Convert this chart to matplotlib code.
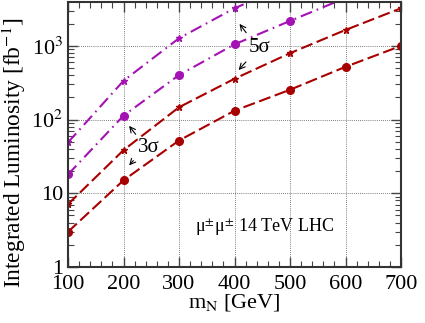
import numpy as np
import matplotlib.pyplot as plt
from matplotlib.ticker import FixedLocator, MultipleLocator, LogLocator, NullFormatter

plt.rcParams['font.family'] = ['Liberation Serif', 'DejaVu Serif']
plt.rcParams['mathtext.fontset'] = 'stix'

mN = [100, 200, 300, 400, 500, 600, 700]
red_3sig = [3.0, 15, 52, 132, 254, 520, 1000]          # circles, dashed
red_5sig = [7.1, 38.5, 147, 358, 796, 1645, 3240]      # stars, dashed
mag_3sig = [18, 113, 402, 1050, 2180, 4470, 8500]      # circles, dash-dot
mag_5sig = [49, 336, 1270, 3240, 6800, 13000, 24000]   # stars, dash-dot

RED = '#a80000'
MAG = '#a412b4'

fig = plt.figure(figsize=(4.25, 3.23), dpi=100)
ax = fig.add_axes([68 / 425, 1 - 267 / 323, 333 / 425, 265 / 323])

dash = (0, (5.8, 2.2))
dashdot = (0, (5.8, 2.4, 0.8, 2.4))
ax.plot(mN, red_3sig, color=RED, ls=dash, lw=1.5, marker='o', ms=5.5)
ax.plot(mN, red_5sig, color=RED, ls=dash, lw=1.5, marker='*', ms=5)
ax.plot(mN, mag_3sig, color=MAG, ls=dashdot, lw=1.5, marker='o', ms=5.5)
ax.plot(mN, mag_5sig, color=MAG, ls=dashdot, lw=1.5, marker='*', ms=5)

ax.set_yscale('log')
ax.set_xlim(100, 700)
ax.set_ylim(1, 3940)
ax.xaxis.set_major_locator(FixedLocator(mN))
ax.xaxis.set_minor_locator(MultipleLocator(20))
ax.yaxis.set_major_locator(FixedLocator([1, 10, 100, 1000]))
ax.yaxis.set_minor_locator(LogLocator(base=10, subs=np.arange(2, 10)))
ax.yaxis.set_minor_formatter(NullFormatter())
ax.set_yticklabels(['1', '10', r'10$^{2}$', r'10$^{3}$'])
ax.grid(True, which='major', color='#555555', ls=(0, (1, 1.5)), lw=0.6)

ax.tick_params(which='both', direction='in', top=True, right=True, labelsize=16, color='#444444')
ax.tick_params(axis='x', pad=6)
ax.tick_params(which='major', length=7, width=1)
ax.tick_params(which='minor', length=4, width=0.8)
for s in ax.spines.values():
    s.set_linewidth(1.5)
    s.set_color('#333333')

ax.set_xlabel(r'm$_{\rm N}$ [GeV]', fontsize=16, labelpad=-2)
ax.set_ylabel(r'Integrated Luminosity [fb$^{-1}$]', fontsize=16.8, va='center')
ax.yaxis.set_label_coords(-0.162, 0.43)

ap = dict(arrowstyle='->', color='black', lw=0.8)
ax.annotate('', xy=(207, 88), xytext=(225, 59), arrowprops=ap)
ax.annotate('', xy=(207, 22.4), xytext=(221, 29.7), arrowprops=ap)
ax.text(226, 42, '3σ', fontsize=15, va='center', ha='left')
ax.annotate('', xy=(406, 2130), xytext=(424, 1410), arrowprops=ap)
ax.annotate('', xy=(404, 441), xytext=(424, 647), arrowprops=ap)
ax.text(426, 940, '5σ', fontsize=15, va='center', ha='left')
ax.text(328, 3.47, r'μ$^{\pm}$μ$^{\pm}$ 14 TeV LHC', fontsize=13, va='center', ha='left')

fig.savefig('out.png', dpi=100)
